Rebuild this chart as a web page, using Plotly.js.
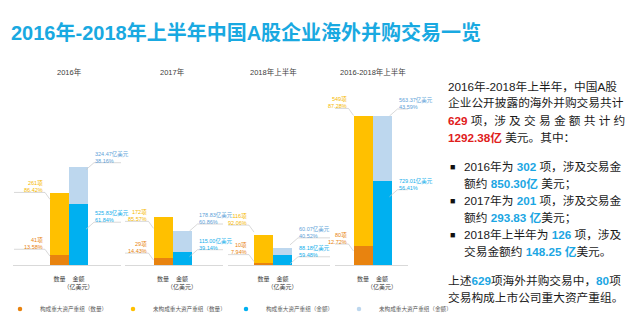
<!DOCTYPE html>
<html><head><meta charset="utf-8">
<script src="https://cdn.plot.ly/plotly-3.0.1.min.js"></script>
<style>html,body{margin:0;padding:0;background:#fff}#chart{width:643px;height:325px}</style>
</head><body><div id="chart"></div>
<script>
// ---------- data ----------
const periods = ["2016年", "2017年", "2018年上半年", "2016-2018年上半年"];
const measures = ["数量", "金额<br>（亿美元）"];
const countMajor = [41, 29, 10, 80];          // 构成重大资产重组（数量，项）
const countOther = [261, 172, 116, 549];      // 未构成重大资产重组（数量，项）
const amountMajor = [525.83, 115.00, 88.18, 729.01];  // 构成重大资产重组（金额，亿美元）
const amountOther = [324.47, 178.83, 60.07, 563.37];  // 未构成重大资产重组（金额，亿美元）
const seriesNames = ["构成重大资产重组（数量）", "未构成重大资产重组（数量）", "构成重大资产重组（金额）", "未构成重大资产重组（金额）"];

// ---------- layout constants ----------
const W = 643, H = 325;
const baseY = 265, topY = 85;
const countPerPx = 4.22, amountPerPx = 8.65;
const barPx = 19;
const panelPx = [[13, 121], [125, 223], [228, 330], [335, 408]];
const countCenterPx = [59.5, 163, 263.5, 363];
const barColors = ["#E8830F", "#FFC000", "#00B0F0", "#BDD7EE"];
const labelColors = ["#E8830F", "#F5B800", "#12AEEB", "#5E9FD8"];
// vertical offset (px, downwards) of each label centre from the top of its segment
const labelShift = {
  cMajor: [-12, -11, -14, -8],
  cOther: [-7, -2, -16, -13.5],
  aMajor: [12, -8, -4, 3],
  aOther: [-10, -13, -16, -12.6]
};
const FONT = "Liberation Sans, Arial, Noto Sans CJK SC, sans-serif";

const traces = [];
const annotations = [];
const shapes = [];
const layout = {
  width: W, height: H,
  margin: {l: 0, r: 0, t: 0, b: 0, pad: 0, autoexpand: false},
  paper_bgcolor: "#ffffff", plot_bgcolor: "rgba(0,0,0,0)",
  font: {family: FONT, color: "#404040"},
  barmode: "stack", bargap: 0,
  showlegend: true,
  title: {
    text: "<b>2016年-2018年上半年中国A股企业海外并购交易一览</b>",
    font: {size: 20, color: "#19A9E1", family: FONT},
    x: 11 / W, xanchor: "left", xref: "paper",
    y: 1 - 33 / H, yanchor: "middle", yref: "container"
  },
  legend: {
    orientation: "h", traceorder: "normal",
    xref: "container", yref: "container",
    x: 0, xanchor: "left", y: 1 - 309 / H, yanchor: "middle",
    font: {size: 5.6, color: "#595959"}, entrywidth: 68, entrywidthmode: "pixels",
    bgcolor: "rgba(0,0,0,0)", itemwidth: 30
  },
  yaxis: {
    domain: [(H - baseY) / H, (H - topY) / H], range: [0, (baseY - topY) * countPerPx],
    visible: false, fixedrange: true
  },
  yaxis2: {
    overlaying: "y", range: [0, (baseY - topY) * amountPerPx],
    visible: false, fixedrange: true
  },
  annotations: annotations, shapes: shapes
};

function addLabel(xa, ya, edgeIdx, segTop, text, color, shiftPx, side) {
  annotations.push({
    xref: xa, yref: ya, x: edgeIdx, y: segTop, text: text, showarrow: false,
    xanchor: side < 0 ? "right" : "left", align: side < 0 ? "right" : "left",
    xshift: side * 6, yshift: -shiftPx, yanchor: "middle", borderpad: 0,
    font: {size: 5.5, color: color}
  });
  const U = -(shiftPx + 6), T = -(shiftPx + 13);
  const path = side < 0
    ? `M -36,${U} L -5,${U} L 0,${T}`
    : `M -2,${T} L 6,${U} L 44,${U}`;
  shapes.push({
    type: "path", xref: xa, yref: ya, xsizemode: "pixel", ysizemode: "pixel",
    xanchor: edgeIdx, yanchor: segTop, path: path,
    line: {color: "#c9c9c9", width: 0.7}
  });
}

const pct = (v, t) => (v / t * 100).toFixed(2) + "%";

periods.forEach((p, i) => {
  const xa = i === 0 ? "x" : "x" + (i + 1);
  const axKey = i === 0 ? "xaxis" : "xaxis" + (i + 1);
  const [a, b] = panelPx[i];
  const c = countCenterPx[i];
  layout[axKey] = {
    type: "category", categoryorder: "array", categoryarray: measures,
    domain: [a / W, b / W], range: [(a - c) / barPx, (b - c) / barPx],
    anchor: "y", showline: true, linecolor: "#d9d9d9", linewidth: 1,
    showgrid: false, zeroline: false, ticks: "", ticklabelstandoff: 8, tickangle: 0,
    automargin: false, tickfont: {size: 6, color: "#404040"}, fixedrange: true
  };
  const seg = [
    {y: countMajor[i], ya: "y", cat: measures[0], k: 0},
    {y: countOther[i], ya: "y", cat: measures[0], k: 1},
    {y: amountMajor[i], ya: "y2", cat: measures[1], k: 2},
    {y: amountOther[i], ya: "y2", cat: measures[1], k: 3}
  ];
  seg.forEach(s => traces.push({
    type: "bar", x: [s.cat], y: [s.y], xaxis: xa, yaxis: s.ya,
    name: seriesNames[s.k], marker: {color: barColors[s.k], line: {width: 0}},
    showlegend: false, hoverinfo: "skip"
  }));
  const cTot = countMajor[i] + countOther[i];
  const aTot = amountMajor[i] + amountOther[i];
  addLabel(xa, "y", -0.5, countMajor[i], `${countMajor[i]}项<br>${pct(countMajor[i], cTot)}`, labelColors[0], labelShift.cMajor[i], -1);
  addLabel(xa, "y", -0.5, cTot, `${countOther[i]}项<br>${pct(countOther[i], cTot)}`, labelColors[1], labelShift.cOther[i], -1);
  addLabel(xa, "y2", 1.5, amountMajor[i], `${amountMajor[i].toFixed(2)}亿美元<br>${pct(amountMajor[i], aTot)}`, labelColors[2], labelShift.aMajor[i], 1);
  addLabel(xa, "y2", 1.5, aTot, `${amountOther[i].toFixed(2)}亿美元<br>${pct(amountOther[i], aTot)}`, labelColors[3], labelShift.aOther[i], 1);
  annotations.push({
    xref: xa, yref: "paper", x: 0.5, y: 1 - 72 / H, yanchor: "middle",
    text: p, showarrow: false, font: {size: 7.5, color: "#404040"}
  });
});

// legend proxies (round markers as in the original legend)
seriesNames.forEach((n, k) => traces.push({
  type: "scatter", mode: "markers", x: [null], y: [null], xaxis: "x", yaxis: "y",
  name: n, marker: {color: barColors[k], size: 4.5, symbol: "circle"},
  hoverinfo: "skip", showlegend: true
}));

// ---------- side text ----------
const RED = "#E0201B", BLUE = "#1BA6E3";
const hl = (t, c) => `<b><span style="color:${c}">${t}</span></b>`;
const last = periods.length - 1;   // the cumulative 2016-2018H1 period
const totalCount = countMajor[last] + countOther[last];
const totalAmount = amountMajor[last] + amountOther[last];
const yearCount = periods.slice(0, 3).map((p, i) => countMajor[i] + countOther[i]);
const yearAmount = periods.slice(0, 3).map((p, i) => amountMajor[i] + amountOther[i]);
const majorTotal = countMajor[last];
const sideLines = [
  {y: 86.5, x: 446, t: "2016年-2018年上半年，中国A股"},
  {y: 103, x: 446, t: "企业公开披露的海外并购交易共计"},
  {y: 120, x: 446, t: `${hl(totalCount, RED)} 项，涉 及 交 易 金 额 共 计 约`},
  {y: 137.5, x: 446, t: `${hl(totalAmount.toFixed(2) + "亿", RED)} 美元。其中：`},
  {y: 166.5, x: 462, t: `2016年为 ${hl(yearCount[0], BLUE)} 项，涉及交易金`, bullet: true},
  {y: 183.5, x: 462, t: `额约 ${hl(yearAmount[0].toFixed(2) + "亿", BLUE)} 美元；`},
  {y: 200.5, x: 462, t: `2017年为 ${hl(yearCount[1], BLUE)} 项，涉及交易金`, bullet: true},
  {y: 217.5, x: 462, t: `额约 ${hl(yearAmount[1].toFixed(2) + " 亿", BLUE)}美元；`},
  {y: 234.5, x: 462, t: `2018年上半年为 ${hl(yearCount[2], BLUE)} 项，涉及`, bullet: true},
  {y: 251.5, x: 462, t: `交易金额约 ${hl(yearAmount[2].toFixed(2) + " 亿", BLUE)}美元。`},
  {y: 280.5, x: 446, t: `上述${hl(totalCount, BLUE)}项海外并购交易中，${hl(majorTotal, BLUE)}项`},
  {y: 297.5, x: 446, t: "交易构成上市公司重大资产重组。"}
];
sideLines.forEach(l => {
  annotations.push({
    xref: "paper", yref: "paper", x: l.x / W, y: 1 - l.y / H, xanchor: "left", yanchor: "middle",
    text: l.t, showarrow: false, font: {size: 11.7, color: "#1a1a1a"}
  });
  if (l.bullet) annotations.push({
    xref: "paper", yref: "paper", x: 448 / W, y: 1 - l.y / H, xanchor: "left", yanchor: "middle",
    text: "■", showarrow: false, font: {size: 9, color: "#111111"}
  });
});

Plotly.newPlot("chart", traces, layout, {staticPlot: true, displayModeBar: false});
</script>
</body></html>
